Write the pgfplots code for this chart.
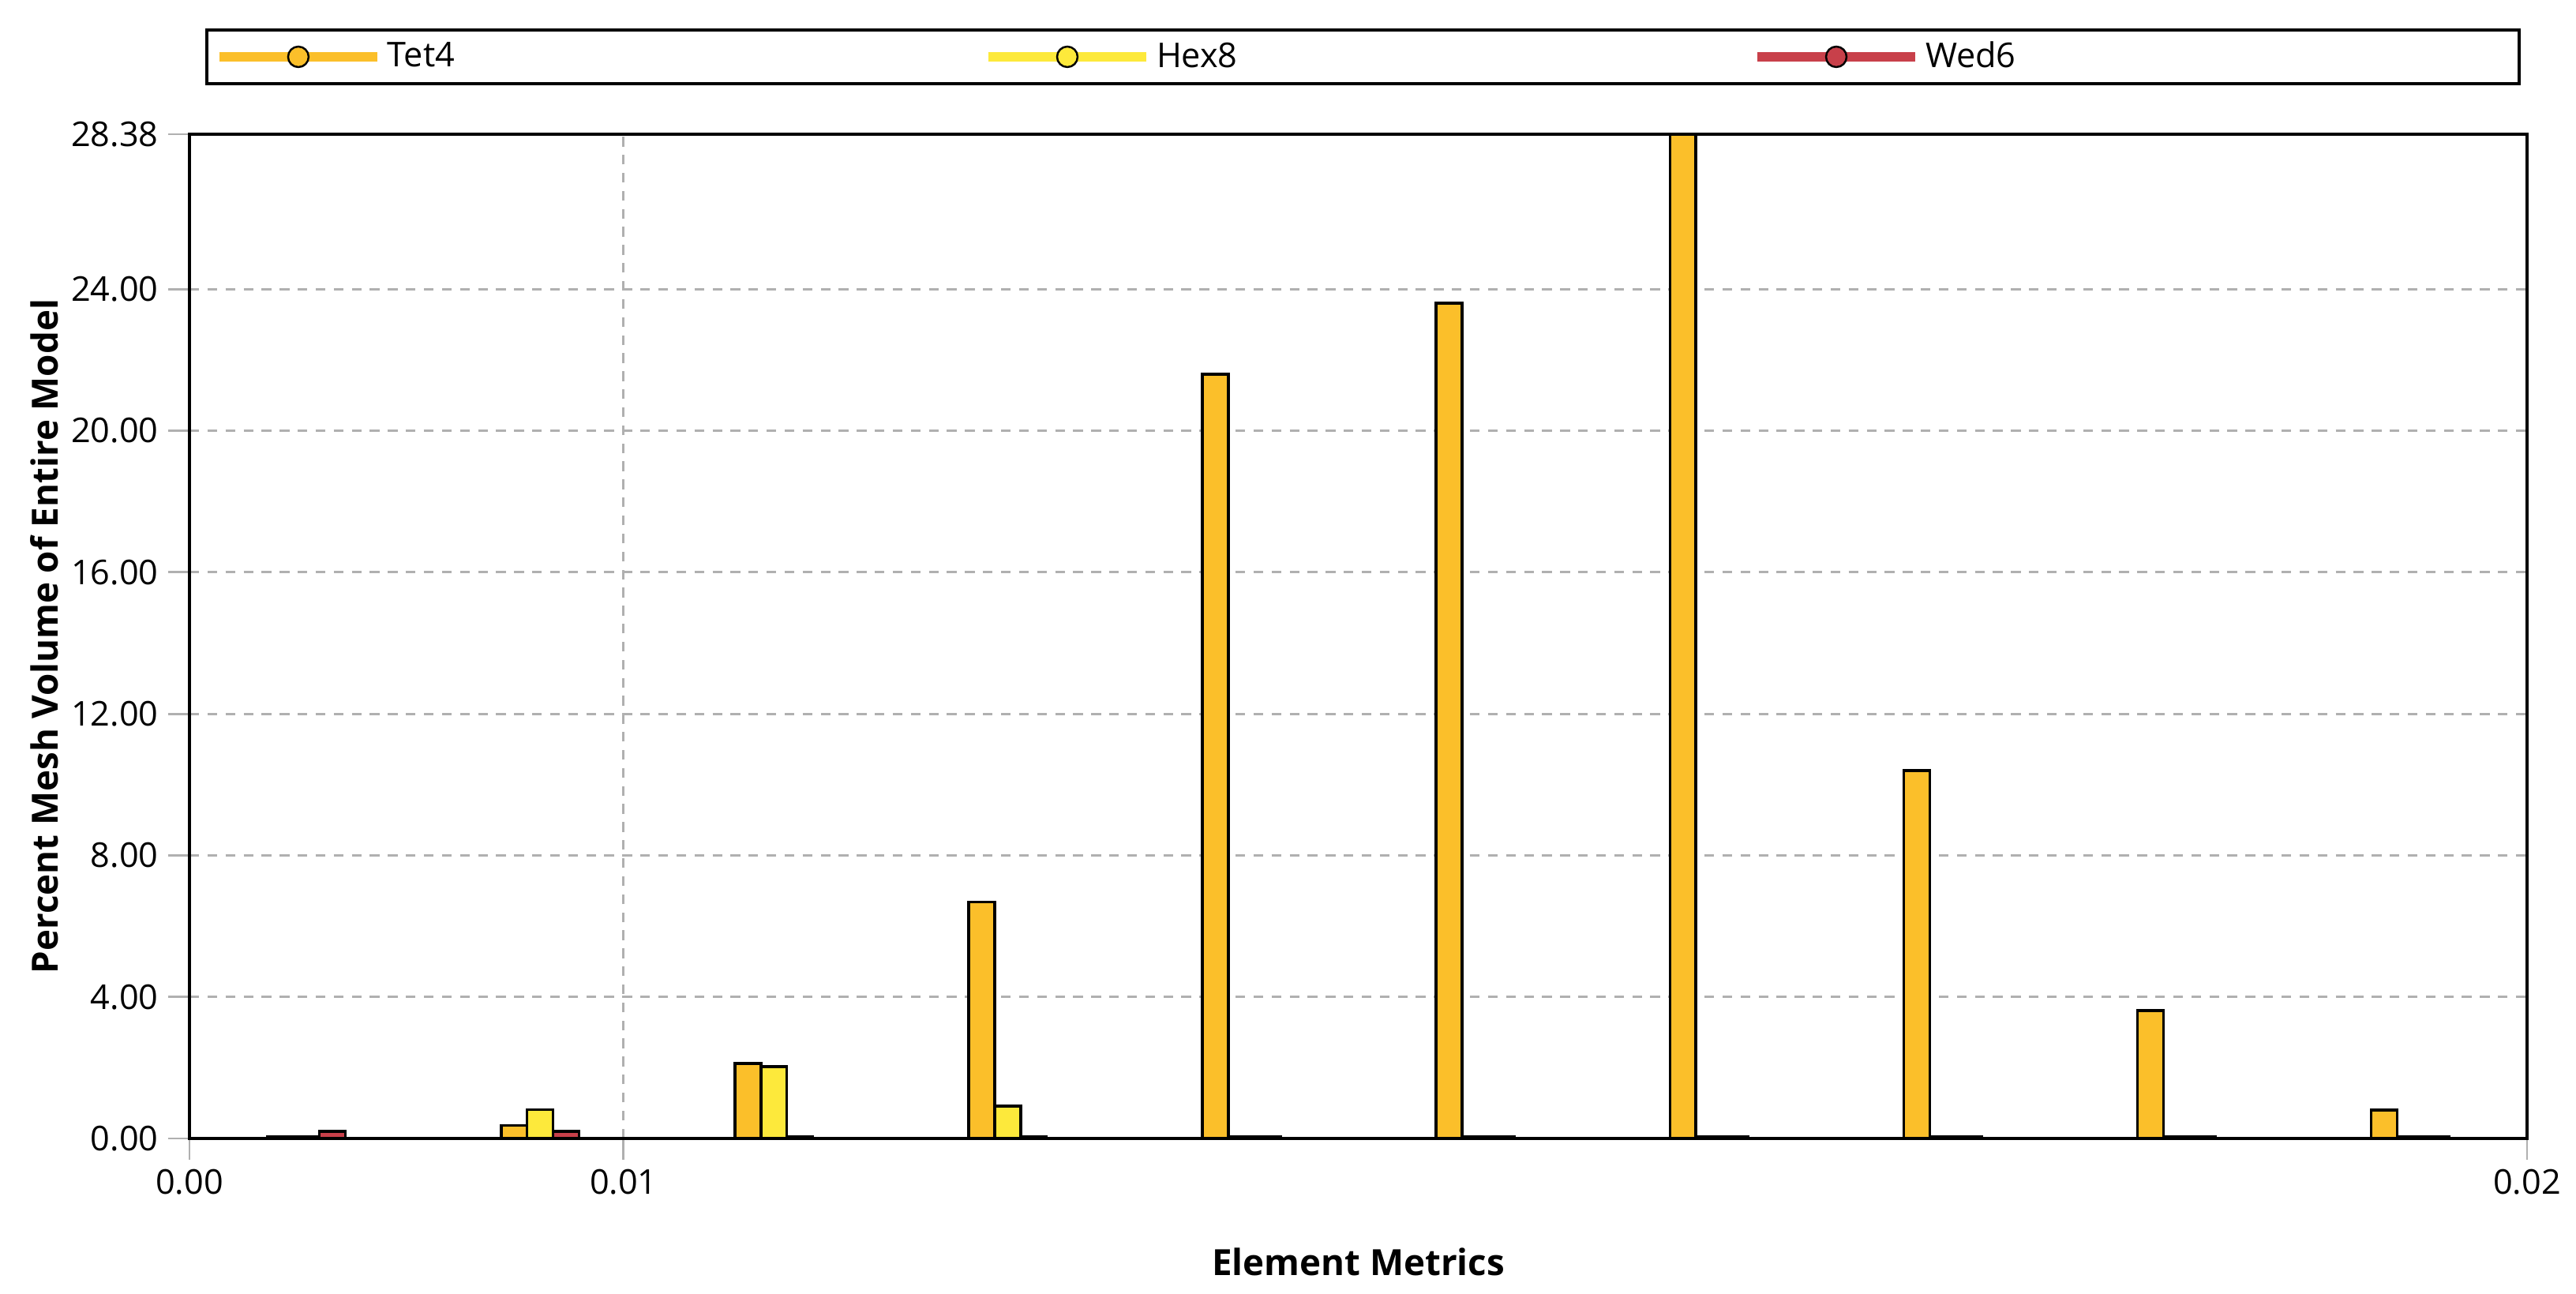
\documentclass[border=0pt]{standalone}
\usepackage{fontspec}
\setmainfont{Open Sans}
\usepackage{pgfplots}
\pgfplotsset{compat=1.18}
\definecolor{tet}{HTML}{FBBF2A}
\definecolor{hex}{HTML}{FDE93B}
\definecolor{wed}{HTML}{C8404A}
\definecolor{gridgray}{HTML}{B0B0B0}

\begin{document}
\begin{tikzpicture}
\begin{axis}[
 scale only axis, width=29.61cm, height=12.72cm,
 xmin=0, xmax=10, ymin=0, ymax=28.38,
 ybar, bar width=0.111,
 xtick={0,1.857,10}, xticklabels={0.00,0.01,0.02},
 ytick={0,4,8,12,16,20,24,28.38},
 yticklabels={0.00,4.00,8.00,12.00,16.00,20.00,24.00,28.38},
 tick label style={font=\fontsize{12.3}{14}\selectfont},
 tick align=outside, tick pos=left, major tick length=0.27cm,
 major tick style={gridgray, line width=0.8pt},
 xmajorgrids, ymajorgrids,
 major grid style={gridgray, line width=0.8pt, dash pattern=on 3.5pt off 3pt},
 axis line style={black, line width=1.1pt},
 xlabel={Element Metrics}, ylabel={Percent Mesh Volume of Entire Model},
 label style={font=\fontsize{13}{15}\selectfont\bfseries},
 xlabel style={at={(axis description cs:0.5,-0.1226)}, anchor=center},
 ylabel style={at={(axis description cs:-0.0621,0.5)}, anchor=center},
 legend columns=3,
 legend style={at={(axis description cs:0,1)}, anchor=south west,
   xshift=0.2cm, yshift=0.62cm, draw=black, line width=1.1pt,
   inner xsep=0.1cm, inner ysep=0.08cm,
   font=\fontsize{12.3}{14}\selectfont},
]
\addplot[fill=tet, draw=black, line width=1pt, bar shift=-0.111,
 legend image code/.code={
  \draw[tet, line width=0.12cm] (0cm,0cm) -- (2cm,0cm);
  \draw[black, fill=tet, line width=0.7pt] (1cm,0cm) circle (0.13cm);}]
 coordinates {(0.5,0.06) (1.5,0.37) (2.5,2.12) (3.5,6.68) (4.5,21.6)
  (5.5,23.6) (6.5,28.38) (7.5,10.4) (8.5,3.62) (9.5,0.8)};
\addplot[fill=hex, draw=black, line width=1pt, bar shift=0,
 legend image code/.code={
  \draw[hex, line width=0.12cm] (0cm,0cm) -- (2cm,0cm);
  \draw[black, fill=hex, line width=0.7pt] (1cm,0cm) circle (0.13cm);}]
 coordinates {(0.5,0.06) (1.5,0.82) (2.5,2.03) (3.5,0.92) (4.5,0.05)
  (5.5,0.05) (6.5,0.05) (7.5,0.05) (8.5,0.05) (9.5,0.05)};
\addplot[fill=wed, draw=black, line width=1pt, bar shift=0.111,
 legend image code/.code={
  \draw[wed, line width=0.12cm] (0cm,0cm) -- (2cm,0cm);
  \draw[black, fill=wed, line width=0.7pt] (1cm,0cm) circle (0.13cm);}]
 coordinates {(0.5,0.2) (1.5,0.2) (2.5,0.06) (3.5,0.05) (4.5,0.05)
  (5.5,0.05) (6.5,0.05) (7.5,0.05) (8.5,0.05) (9.5,0.05)};
\legend{\makebox[7.48cm][l]{Tet4},\makebox[7.48cm][l]{Hex8},\makebox[7.35cm][l]{Wed6}}
\end{axis}
\path (current axis.south west) ++(-2.40cm,-1.96cm) rectangle ++(32.63cm,16.38cm);
\end{tikzpicture}
\end{document}
